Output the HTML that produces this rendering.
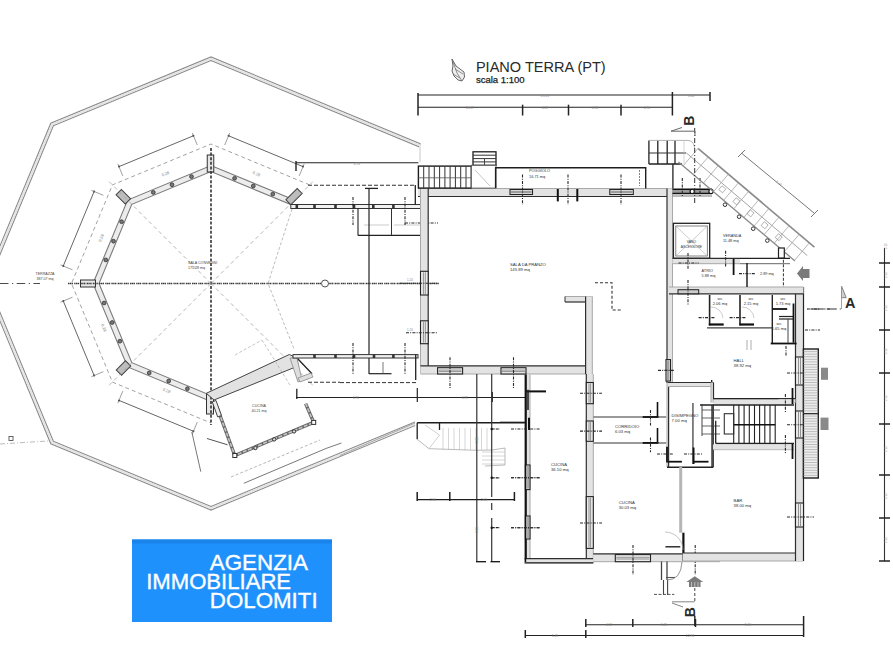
<!DOCTYPE html>
<html><head><meta charset="utf-8"><style>
html,body{margin:0;padding:0;background:#fff;width:893px;height:670px;overflow:hidden}
svg{position:absolute;left:0;top:0}
text{font-family:"Liberation Sans",sans-serif}
</style></head><body>
<svg width="893" height="670" viewBox="0 0 893 670">
<polyline points="420.0,162.0 420.0,143.6 211.0,57.0 50.8,123.3 -15.5,283.5 50.8,443.7 211.0,510.0 415.0,425.5" fill="none" stroke="#8c8c8c" stroke-width="1.2"/>
<polyline points="420.0,162.0 420.0,147.1 211.0,60.5 53.3,125.8 -12.0,283.5 53.3,441.2 211.0,506.5 415.0,422.0" fill="none" stroke="#8c8c8c" stroke-width="1.2"/>
<polyline points="420.0,162.0 420.0,145.3 211.0,58.8 52.1,124.6 -13.8,283.5 52.1,442.4 211.0,508.2 415.0,423.8" fill="none" stroke="#e4e4e4" stroke-width="2"/>
<line x1="0.0" y1="444.0" x2="48.0" y2="441.0" stroke="#aaa" stroke-width="0.8" stroke-dasharray="5 2 1 2"/>
<rect x="9" y="436.5" width="4" height="4" fill="#fff" stroke="#555" stroke-width="0.9"/>
<polygon points="294.4,200.1 211.0,165.5 127.6,200.1 93.0,283.5 127.6,366.9 211.0,401.5 211.0,395.5 131.8,362.7 99.0,283.5 131.8,204.3 211.0,171.5 290.2,204.3" fill="#ececec" stroke="#7a7a7a" stroke-width="1.1"/>
<circle cx="191.5" cy="176.6" r="1.9" fill="#777" stroke="#333" stroke-width="0.8"/>
<circle cx="172.0" cy="184.7" r="1.9" fill="#777" stroke="#333" stroke-width="0.8"/>
<circle cx="153.3" cy="192.4" r="1.9" fill="#777" stroke="#333" stroke-width="0.8"/>
<circle cx="121.6" cy="221.7" r="1.9" fill="#777" stroke="#333" stroke-width="0.8"/>
<circle cx="113.5" cy="241.2" r="1.9" fill="#777" stroke="#333" stroke-width="0.8"/>
<circle cx="105.8" cy="259.9" r="1.9" fill="#777" stroke="#333" stroke-width="0.8"/>
<circle cx="104.1" cy="303.0" r="1.9" fill="#777" stroke="#333" stroke-width="0.8"/>
<circle cx="112.2" cy="322.5" r="1.9" fill="#777" stroke="#333" stroke-width="0.8"/>
<circle cx="119.9" cy="341.2" r="1.9" fill="#777" stroke="#333" stroke-width="0.8"/>
<circle cx="149.2" cy="372.9" r="1.9" fill="#777" stroke="#333" stroke-width="0.8"/>
<circle cx="168.7" cy="381.0" r="1.9" fill="#777" stroke="#333" stroke-width="0.8"/>
<circle cx="187.4" cy="388.7" r="1.9" fill="#777" stroke="#333" stroke-width="0.8"/>
<circle cx="272.8" cy="194.1" r="1.9" fill="#777" stroke="#333" stroke-width="0.8"/>
<circle cx="253.3" cy="186.0" r="1.9" fill="#777" stroke="#333" stroke-width="0.8"/>
<circle cx="234.6" cy="178.3" r="1.9" fill="#777" stroke="#333" stroke-width="0.8"/>
<rect x="-6.5" y="-3.75" width="13" height="7.5" fill="#bdbdbd" stroke="#444" stroke-width="1" transform="translate(123.3,196.7) rotate(45)"/>
<rect x="-8.0" y="-3.5" width="16" height="7" fill="#bdbdbd" stroke="#444" stroke-width="1" transform="translate(294.0,196.6) rotate(-45)"/>
<rect x="-6.5" y="-3.75" width="13" height="7.5" fill="#bdbdbd" stroke="#444" stroke-width="1" transform="translate(123.5,368.0) rotate(-45)"/>
<rect x="-3.25" y="-8.5" width="6.5" height="17" fill="#e6e6e6" stroke="#333" stroke-width="1" transform="translate(210.5,163.5) rotate(0)"/>
<rect x="-7.5" y="-3.5" width="15" height="7" fill="#e6e6e6" stroke="#333" stroke-width="1" transform="translate(88.0,283.5) rotate(0)"/>
<rect x="-3.5" y="-10.0" width="7" height="20" fill="#e6e6e6" stroke="#333" stroke-width="1" transform="translate(210.0,404.0) rotate(0)"/>
<polyline points="309.6,184.9 211.0,144.0 112.4,184.9 71.5,283.5 112.4,382.1 211.0,423.0" fill="none" stroke="#8a8a8a" stroke-width="0.8" stroke-dasharray="4 3"/>
<line x1="303.0" y1="166.6" x2="228.6" y2="135.8" stroke="#555" stroke-width="0.9"/>
<circle cx="303.0" cy="166.6" r="1" fill="#333"/>
<circle cx="228.6" cy="135.8" r="1" fill="#333"/>
<line x1="299.2" y1="175.9" x2="304.2" y2="163.9" stroke="#777" stroke-width="0.7"/>
<line x1="224.7" y1="145.0" x2="229.7" y2="133.0" stroke="#777" stroke-width="0.7"/>
<line x1="193.4" y1="135.8" x2="119.0" y2="166.6" stroke="#555" stroke-width="0.9"/>
<circle cx="193.4" cy="135.8" r="1" fill="#333"/>
<circle cx="119.0" cy="166.6" r="1" fill="#333"/>
<line x1="197.3" y1="145.0" x2="192.3" y2="133.0" stroke="#777" stroke-width="0.7"/>
<line x1="122.8" y1="175.9" x2="117.8" y2="163.9" stroke="#777" stroke-width="0.7"/>
<line x1="94.1" y1="191.5" x2="63.3" y2="265.9" stroke="#555" stroke-width="0.9"/>
<circle cx="94.1" cy="191.5" r="1" fill="#333"/>
<circle cx="63.3" cy="265.9" r="1" fill="#333"/>
<line x1="103.4" y1="195.3" x2="91.4" y2="190.3" stroke="#777" stroke-width="0.7"/>
<line x1="72.5" y1="269.8" x2="60.5" y2="264.8" stroke="#777" stroke-width="0.7"/>
<line x1="63.3" y1="301.1" x2="94.1" y2="375.5" stroke="#555" stroke-width="0.9"/>
<circle cx="63.3" cy="301.1" r="1" fill="#333"/>
<circle cx="94.1" cy="375.5" r="1" fill="#333"/>
<line x1="72.5" y1="297.2" x2="60.5" y2="302.2" stroke="#777" stroke-width="0.7"/>
<line x1="103.4" y1="371.7" x2="91.4" y2="376.7" stroke="#777" stroke-width="0.7"/>
<line x1="119.0" y1="400.4" x2="193.4" y2="431.2" stroke="#555" stroke-width="0.9"/>
<circle cx="119.0" cy="400.4" r="1" fill="#333"/>
<circle cx="193.4" cy="431.2" r="1" fill="#333"/>
<line x1="122.8" y1="391.1" x2="117.8" y2="403.1" stroke="#777" stroke-width="0.7"/>
<line x1="197.3" y1="422.0" x2="192.3" y2="434.0" stroke="#777" stroke-width="0.7"/>
<line x1="211.0" y1="148.0" x2="211.0" y2="425.0" stroke="#333" stroke-width="1.6" stroke-dasharray="3 1.6"/>
<line x1="68.0" y1="283.5" x2="440.0" y2="283.5" stroke="#3a3a3a" stroke-width="1.5" stroke-dasharray="1.4 0.4 1.4 0.4 1.4 1.2"/>
<line x1="0.0" y1="283.5" x2="40.0" y2="283.5" stroke="#4a4a4a" stroke-width="1.1" stroke-dasharray="8.5 3.5 1.2 3.5"/>
<polyline points="292.0,209.0 268.0,283.5 294.5,350.0" fill="none" stroke="#aaa" stroke-width="0.8" stroke-dasharray="3 2"/>
<line x1="211.0" y1="283.5" x2="313.5" y2="181.0" stroke="#999" stroke-width="0.7" stroke-dasharray="4 3"/>
<line x1="211.0" y1="283.5" x2="108.5" y2="181.0" stroke="#999" stroke-width="0.7" stroke-dasharray="4 3"/>
<line x1="211.0" y1="283.5" x2="108.5" y2="386.0" stroke="#999" stroke-width="0.7" stroke-dasharray="4 3"/>
<line x1="211.0" y1="283.5" x2="313.5" y2="386.0" stroke="#999" stroke-width="0.7" stroke-dasharray="4 3"/>
<circle cx="325" cy="283.5" r="3.5" fill="#fff" stroke="#555" stroke-width="1"/>
<text x="188.0" y="264.0" font-size="3.6" fill="#444" text-anchor="start" >SALA CONVEGNI</text>
<text x="188.0" y="268.5" font-size="3.6" fill="#444" text-anchor="start" >175.28 mq</text>
<text x="45.0" y="275.0" font-size="3.6" fill="#444" text-anchor="middle" >TERRAZZA</text>
<text x="45.0" y="279.5" font-size="3.6" fill="#444" text-anchor="middle" >387.07 mq</text>
<text x="166.1" y="175.1" font-size="4" fill="#777" text-anchor="middle" transform="rotate(-22.5 166.1 175.1)">0.28</text>
<text x="102.6" y="238.6" font-size="4" fill="#777" text-anchor="middle" transform="rotate(-67.5 102.6 238.6)">0.28</text>
<text x="102.6" y="328.4" font-size="4" fill="#777" text-anchor="middle" transform="rotate(67.5 102.6 328.4)">0.28</text>
<text x="166.1" y="391.9" font-size="4" fill="#777" text-anchor="middle" transform="rotate(22.5 166.1 391.9)">0.28</text>
<text x="255.9" y="175.1" font-size="4" fill="#777" text-anchor="middle" transform="rotate(22.5 255.9 175.1)">0.28</text>
<polygon points="206.3,393.3 289.3,354.5 297.0,358.0 298.0,366.0 214.0,400.0" fill="#e2e2e2" stroke="#444" stroke-width="1"/>
<line x1="297.0" y1="358.0" x2="312.0" y2="373.7" stroke="#222" stroke-width="1.3"/>
<polygon points="290.0,358.0 297.0,358.0 302.0,380.0 298.0,382.0" fill="#dedede" stroke="#888" stroke-width="0.8"/>
<polygon points="298.0,378.0 311.0,373.0 313.0,377.0 300.0,382.0" fill="#dedede" stroke="#888" stroke-width="0.8"/>
<line x1="296.8" y1="388.8" x2="296.8" y2="399.0" stroke="#222" stroke-width="1.3"/>
<line x1="308.0" y1="382.3" x2="340.0" y2="382.3" stroke="#333" stroke-width="1.1" stroke-dasharray="4 2"/>
<polyline points="216.9,407.0 234.8,455.5 313.7,422.4 305.6,403.6" fill="none" stroke="#666" stroke-width="3.4"/>
<polyline points="216.9,407.0 234.8,455.5 313.7,422.4 305.6,403.6" fill="none" stroke="#c4c4c4" stroke-width="1.6" stroke-dasharray="4 1.5"/>
<circle cx="255.4" cy="448" r="1.7" fill="#ddd" stroke="#333" stroke-width="1"/>
<circle cx="274.2" cy="439.4" r="1.7" fill="#ddd" stroke="#333" stroke-width="1"/>
<circle cx="294" cy="431.4" r="1.7" fill="#ddd" stroke="#333" stroke-width="1"/>
<rect x="232.8" y="453.5" width="4" height="4" fill="#fff" stroke="#333" stroke-width="1"/>
<rect x="311.7" y="420.4" width="4" height="4" fill="#fff" stroke="#333" stroke-width="1"/>
<line x1="207.0" y1="438.5" x2="227.6" y2="444.8" stroke="#555" stroke-width="1"/>
<rect x="214.9" y="401" width="4" height="16" fill="#eee" stroke="#444" stroke-width="0.9" transform="rotate(-20 216 409)"/>
<text x="259.0" y="407.0" font-size="3.6" fill="#444" text-anchor="middle" >CUCINA</text>
<text x="259.0" y="411.5" font-size="3.6" fill="#444" text-anchor="middle" >40.21 mq</text>
<line x1="243.8" y1="483.3" x2="326.2" y2="448.4" stroke="#555" stroke-width="0.8"/>
<line x1="326.2" y1="448.4" x2="341.4" y2="443.0" stroke="#555" stroke-width="0.8"/>
<line x1="231.0" y1="477.0" x2="320.0" y2="440.0" stroke="#999" stroke-width="0.7" stroke-dasharray="3 2"/>
<line x1="191.8" y1="432.0" x2="200.8" y2="471.7" stroke="#555" stroke-width="0.8"/>
<line x1="235.0" y1="355.0" x2="262.0" y2="340.0" stroke="#aaa" stroke-width="0.7" stroke-dasharray="3 2"/>
<line x1="262.0" y1="340.0" x2="290.0" y2="385.0" stroke="#aaa" stroke-width="0.7" stroke-dasharray="3 2"/>
<rect x="290.8" y="204.5" width="130.2" height="4.0" fill="#f2f2f2" stroke="#333" stroke-width="1"/>
<rect x="295.5" y="204.5" width="2.6" height="4.0" fill="#333" stroke="none" stroke-width="0"/>
<rect x="313.2" y="204.5" width="2.6" height="4.0" fill="#333" stroke="none" stroke-width="0"/>
<rect x="334.2" y="204.5" width="2.6" height="4.0" fill="#333" stroke="none" stroke-width="0"/>
<rect x="352.7" y="204.5" width="2.6" height="4.0" fill="#333" stroke="none" stroke-width="0"/>
<rect x="372.0" y="204.5" width="2.6" height="4.0" fill="#333" stroke="none" stroke-width="0"/>
<rect x="392.1" y="204.5" width="2.6" height="4.0" fill="#333" stroke="none" stroke-width="0"/>
<line x1="358.0" y1="208.5" x2="358.0" y2="235.4" stroke="#222" stroke-width="1.1"/>
<line x1="358.0" y1="235.4" x2="427.3" y2="235.4" stroke="#222" stroke-width="1.1"/>
<line x1="391.5" y1="208.5" x2="391.5" y2="235.4" stroke="#333" stroke-width="1"/>
<line x1="364.0" y1="225.0" x2="389.0" y2="225.0" stroke="#aaa" stroke-width="0.6"/>
<line x1="394.0" y1="225.0" x2="420.0" y2="225.0" stroke="#aaa" stroke-width="0.6"/>
<line x1="353.0" y1="197.0" x2="353.0" y2="225.0" stroke="#2a2a2a" stroke-width="1.1" stroke-dasharray="3 1.2 1 1.2"/>
<line x1="405.0" y1="197.0" x2="405.0" y2="225.0" stroke="#2a2a2a" stroke-width="1.1" stroke-dasharray="3 1.2 1 1.2"/>
<line x1="405.0" y1="223.0" x2="438.0" y2="223.0" stroke="#2a2a2a" stroke-width="1.1" stroke-dasharray="3 1.2 1 1.2"/>
<line x1="369.0" y1="188.0" x2="369.0" y2="374.0" stroke="#222" stroke-width="1.2"/>
<line x1="365.0" y1="188.4" x2="378.0" y2="188.4" stroke="#222" stroke-width="1.3"/>
<line x1="296.0" y1="162.8" x2="418.4" y2="162.8" stroke="#222" stroke-width="1.1"/>
<line x1="296.0" y1="161.0" x2="296.0" y2="171.0" stroke="#222" stroke-width="1.4"/>
<text x="357" y="164.5" font-size="3.3" fill="#888" text-anchor="middle">4.78</text>
<line x1="308.0" y1="185.2" x2="414.0" y2="185.2" stroke="#333" stroke-width="1.1" stroke-dasharray="4 2"/>
<rect x="293.0" y="354.6" width="125.0" height="3.4" fill="#f2f2f2" stroke="#333" stroke-width="1"/>
<rect x="313.2" y="354.6" width="2.6" height="3.4" fill="#333" stroke="none" stroke-width="0"/>
<rect x="334.2" y="354.6" width="2.6" height="3.4" fill="#333" stroke="none" stroke-width="0"/>
<rect x="352.7" y="354.6" width="2.6" height="3.4" fill="#333" stroke="none" stroke-width="0"/>
<rect x="372.7" y="354.6" width="2.6" height="3.4" fill="#333" stroke="none" stroke-width="0"/>
<rect x="392.1" y="354.6" width="2.6" height="3.4" fill="#333" stroke="none" stroke-width="0"/>
<line x1="415.7" y1="354.6" x2="415.7" y2="380.0" stroke="#222" stroke-width="1.3"/>
<line x1="369.0" y1="373.7" x2="391.5" y2="373.7" stroke="#222" stroke-width="1.2"/>
<line x1="383.0" y1="362.0" x2="383.0" y2="373.7" stroke="#555" stroke-width="0.8"/>
<line x1="353.0" y1="343.0" x2="353.0" y2="375.0" stroke="#2a2a2a" stroke-width="1.1" stroke-dasharray="3 1.2 1 1.2"/>
<line x1="405.0" y1="343.0" x2="405.0" y2="375.0" stroke="#2a2a2a" stroke-width="1.1" stroke-dasharray="3 1.2 1 1.2"/>
<line x1="340.0" y1="382.6" x2="417.0" y2="382.6" stroke="#333" stroke-width="1" stroke-dasharray="4 2"/>
<line x1="296.0" y1="397.5" x2="526.3" y2="397.5" stroke="#222" stroke-width="1.1"/>
<line x1="417.3" y1="388.0" x2="417.3" y2="402.0" stroke="#222" stroke-width="1.2"/>
<line x1="492.3" y1="392.0" x2="492.3" y2="402.0" stroke="#222" stroke-width="1.2"/>
<text x="356" y="398.8" font-size="3.3" fill="#888" text-anchor="middle">6.90</text>
<text x="465" y="398.8" font-size="3.3" fill="#888" text-anchor="middle">6.95</text>
<rect x="418.0" y="188.5" width="254.5" height="8.0" fill="#e3e3e3"/>
<line x1="418.0" y1="188.5" x2="672.5" y2="188.5" stroke="#a8a8a8" stroke-width="1"/>
<line x1="418.0" y1="196.5" x2="672.5" y2="196.5" stroke="#2e2e2e" stroke-width="1.2"/>
<rect x="420.5" y="188.5" width="7.7" height="185.5" fill="#e3e3e3"/>
<line x1="420.5" y1="188.5" x2="420.5" y2="374.0" stroke="#a8a8a8" stroke-width="1"/>
<line x1="428.2" y1="188.5" x2="428.2" y2="374.0" stroke="#2e2e2e" stroke-width="1.2"/>
<rect x="420.5" y="365.8" width="171.8" height="8.2" fill="#e3e3e3"/>
<line x1="420.5" y1="374.0" x2="592.3" y2="374.0" stroke="#a8a8a8" stroke-width="1"/>
<line x1="420.5" y1="365.8" x2="592.3" y2="365.8" stroke="#2e2e2e" stroke-width="1.2"/>
<rect x="420.5" y="271.3" width="7.7" height="23.7" fill="#ececec" stroke="#222" stroke-width="1.1"/>
<line x1="423.4" y1="272.3" x2="423.4" y2="294.0" stroke="#555" stroke-width="0.6"/>
<line x1="425.3" y1="272.3" x2="425.3" y2="294.0" stroke="#555" stroke-width="0.6"/>
<rect x="420.5" y="320.8" width="7.7" height="22.9" fill="#ececec" stroke="#222" stroke-width="1.1"/>
<line x1="423.4" y1="321.8" x2="423.4" y2="342.7" stroke="#555" stroke-width="0.6"/>
<line x1="425.3" y1="321.8" x2="425.3" y2="342.7" stroke="#555" stroke-width="0.6"/>
<line x1="400.0" y1="283.2" x2="437.6" y2="283.2" stroke="#2a2a2a" stroke-width="1.1" stroke-dasharray="3 1.2 1 1.2"/>
<line x1="406.0" y1="332.7" x2="437.6" y2="332.7" stroke="#2a2a2a" stroke-width="1.1" stroke-dasharray="3 1.2 1 1.2"/>
<text x="410" y="281" font-size="3" fill="#888" text-anchor="middle">1.20</text>
<text x="410" y="330.5" font-size="3" fill="#888" text-anchor="middle">1.20</text>
<rect x="437.6" y="367.7" width="25.0" height="6.3" fill="#ececec" stroke="#222" stroke-width="1.1"/>
<line x1="438.6" y1="370.1" x2="461.6" y2="370.1" stroke="#555" stroke-width="0.6"/>
<line x1="438.6" y1="371.6" x2="461.6" y2="371.6" stroke="#555" stroke-width="0.6"/>
<rect x="501.0" y="367.7" width="25.0" height="6.3" fill="#ececec" stroke="#222" stroke-width="1.1"/>
<line x1="502.0" y1="370.1" x2="525.0" y2="370.1" stroke="#555" stroke-width="0.6"/>
<line x1="502.0" y1="371.6" x2="525.0" y2="371.6" stroke="#555" stroke-width="0.6"/>
<line x1="450.0" y1="357.3" x2="450.0" y2="388.6" stroke="#2a2a2a" stroke-width="1.1" stroke-dasharray="3 1.2 1 1.2"/>
<line x1="513.5" y1="357.3" x2="513.5" y2="388.6" stroke="#2a2a2a" stroke-width="1.1" stroke-dasharray="3 1.2 1 1.2"/>
<rect x="510.0" y="189.5" width="22.5" height="5.0" fill="#ececec" stroke="#222" stroke-width="1.1"/>
<line x1="511.0" y1="191.4" x2="531.5" y2="191.4" stroke="#555" stroke-width="0.6"/>
<line x1="511.0" y1="192.6" x2="531.5" y2="192.6" stroke="#555" stroke-width="0.6"/>
<rect x="609.8" y="189.5" width="23.5" height="5.0" fill="#ececec" stroke="#222" stroke-width="1.1"/>
<line x1="610.8" y1="191.4" x2="632.3" y2="191.4" stroke="#555" stroke-width="0.6"/>
<line x1="610.8" y1="192.6" x2="632.3" y2="192.6" stroke="#555" stroke-width="0.6"/>
<line x1="557.8" y1="189.0" x2="557.8" y2="201.4" stroke="#111" stroke-width="2"/>
<line x1="577.3" y1="189.0" x2="577.3" y2="201.4" stroke="#111" stroke-width="2"/>
<line x1="522.5" y1="174.6" x2="522.5" y2="204.8" stroke="#2a2a2a" stroke-width="1.1" stroke-dasharray="3 1.2 1 1.2"/>
<line x1="568.0" y1="174.6" x2="568.0" y2="204.8" stroke="#2a2a2a" stroke-width="1.1" stroke-dasharray="3 1.2 1 1.2"/>
<line x1="621.0" y1="174.6" x2="621.0" y2="204.8" stroke="#2a2a2a" stroke-width="1.1" stroke-dasharray="3 1.2 1 1.2"/>
<rect x="565.0" y="296.5" width="27.3" height="5.5" fill="#e3e3e3"/>
<line x1="565.0" y1="296.5" x2="592.3" y2="296.5" stroke="#a8a8a8" stroke-width="1"/>
<line x1="565.0" y1="302.0" x2="592.3" y2="302.0" stroke="#2e2e2e" stroke-width="1.2"/>
<rect x="585.6" y="296.5" width="6.7" height="77.5" fill="#e3e3e3"/>
<line x1="592.3" y1="296.5" x2="592.3" y2="374.0" stroke="#a8a8a8" stroke-width="1"/>
<line x1="585.6" y1="296.5" x2="585.6" y2="374.0" stroke="#2e2e2e" stroke-width="1.2"/>
<line x1="565.0" y1="296.5" x2="565.0" y2="302.0" stroke="#333" stroke-width="1"/>
<polyline points="595.0,282.7 612.0,282.7 612.0,310.0 622.0,310.0" fill="none" stroke="#333" stroke-width="1.1" stroke-dasharray="3 2"/>
<text x="510" y="266" font-size="4.2" fill="#333">SALA DA PRANZO</text>
<text x="510" y="271.3" font-size="4.2" fill="#333">145.89 mq</text>
<rect x="667.0" y="188.5" width="5.5" height="194.5" fill="#e3e3e3"/>
<line x1="672.5" y1="188.5" x2="672.5" y2="383.0" stroke="#a8a8a8" stroke-width="1"/>
<line x1="667.0" y1="188.5" x2="667.0" y2="383.0" stroke="#2e2e2e" stroke-width="1.2"/>
<rect x="666.0" y="359.6" width="4.5" height="21.4" fill="#ececec" stroke="#222" stroke-width="1.1"/>
<line x1="667.7" y1="360.6" x2="667.7" y2="380.0" stroke="#555" stroke-width="0.6"/>
<line x1="668.8" y1="360.6" x2="668.8" y2="380.0" stroke="#555" stroke-width="0.6"/>
<line x1="658.0" y1="370.4" x2="674.5" y2="370.4" stroke="#2a2a2a" stroke-width="1.1" stroke-dasharray="3 1.2 1 1.2"/>
<rect x="667.0" y="383.0" width="1.6" height="84.0" fill="#e3e3e3"/>
<line x1="667.0" y1="383.0" x2="667.0" y2="467.0" stroke="#a8a8a8" stroke-width="1"/>
<line x1="668.6" y1="383.0" x2="668.6" y2="467.0" stroke="#2e2e2e" stroke-width="1.2"/>
<rect x="526.3" y="374.6" width="3.7" height="188.2" fill="#e3e3e3"/>
<line x1="530.0" y1="374.6" x2="530.0" y2="562.8" stroke="#a8a8a8" stroke-width="1"/>
<line x1="526.3" y1="374.6" x2="526.3" y2="562.8" stroke="#2e2e2e" stroke-width="1.2"/>
<line x1="526.3" y1="391.4" x2="546.0" y2="391.4" stroke="#111" stroke-width="2"/>
<line x1="528.0" y1="389.7" x2="528.0" y2="409.9" stroke="#222" stroke-width="1.6"/>
<line x1="529.0" y1="417.7" x2="529.0" y2="430.0" stroke="#111" stroke-width="2"/>
<line x1="500.0" y1="422.2" x2="526.0" y2="422.2" stroke="#333" stroke-width="1.1"/>
<rect x="586.3" y="374.0" width="7.0" height="188.8" fill="#e3e3e3"/>
<line x1="593.3" y1="374.0" x2="593.3" y2="562.8" stroke="#a8a8a8" stroke-width="1"/>
<line x1="586.3" y1="374.0" x2="586.3" y2="562.8" stroke="#2e2e2e" stroke-width="1.2"/>
<rect x="524.6" y="558.7" width="68.7" height="4.1" fill="#e3e3e3"/>
<line x1="524.6" y1="562.8" x2="593.3" y2="562.8" stroke="#a8a8a8" stroke-width="1"/>
<line x1="524.6" y1="558.7" x2="593.3" y2="558.7" stroke="#2e2e2e" stroke-width="1.2"/>
<line x1="524.6" y1="562.8" x2="593.3" y2="562.8" stroke="#222" stroke-width="1.3"/>
<rect x="586.3" y="382.5" width="7.0" height="21.2" fill="#ececec" stroke="#222" stroke-width="1.1"/>
<line x1="589.0" y1="383.5" x2="589.0" y2="402.7" stroke="#555" stroke-width="0.6"/>
<line x1="590.6" y1="383.5" x2="590.6" y2="402.7" stroke="#555" stroke-width="0.6"/>
<rect x="586.3" y="421.0" width="7.0" height="20.3" fill="#ececec" stroke="#222" stroke-width="1.1"/>
<line x1="589.0" y1="422.0" x2="589.0" y2="440.3" stroke="#555" stroke-width="0.6"/>
<line x1="590.6" y1="422.0" x2="590.6" y2="440.3" stroke="#555" stroke-width="0.6"/>
<rect x="586.3" y="496.6" width="7.0" height="51.8" fill="#ececec" stroke="#222" stroke-width="1.1"/>
<line x1="589.0" y1="497.6" x2="589.0" y2="547.4" stroke="#555" stroke-width="0.6"/>
<line x1="590.6" y1="497.6" x2="590.6" y2="547.4" stroke="#555" stroke-width="0.6"/>
<line x1="580.0" y1="393.2" x2="602.0" y2="393.2" stroke="#2a2a2a" stroke-width="1.1" stroke-dasharray="3 1.2 1 1.2"/>
<line x1="580.0" y1="431.1" x2="602.0" y2="431.1" stroke="#2a2a2a" stroke-width="1.1" stroke-dasharray="3 1.2 1 1.2"/>
<line x1="580.0" y1="523.0" x2="602.0" y2="523.0" stroke="#2a2a2a" stroke-width="1.1" stroke-dasharray="3 1.2 1 1.2"/>
<rect x="525.4" y="465.0" width="4.6" height="24.6" fill="#ececec" stroke="#222" stroke-width="1.1"/>
<line x1="527.1" y1="466.0" x2="527.1" y2="488.6" stroke="#555" stroke-width="0.6"/>
<line x1="528.3" y1="466.0" x2="528.3" y2="488.6" stroke="#555" stroke-width="0.6"/>
<rect x="525.4" y="516.0" width="4.6" height="23.0" fill="#ececec" stroke="#222" stroke-width="1.1"/>
<line x1="527.1" y1="517.0" x2="527.1" y2="538.0" stroke="#555" stroke-width="0.6"/>
<line x1="528.3" y1="517.0" x2="528.3" y2="538.0" stroke="#555" stroke-width="0.6"/>
<line x1="511.0" y1="477.8" x2="540.0" y2="477.8" stroke="#2a2a2a" stroke-width="1.1" stroke-dasharray="3 1.2 1 1.2"/>
<line x1="511.0" y1="527.7" x2="540.0" y2="527.7" stroke="#2a2a2a" stroke-width="1.1" stroke-dasharray="3 1.2 1 1.2"/>
<line x1="525.4" y1="374.6" x2="525.4" y2="562.0" stroke="#111" stroke-width="1.6"/>
<text x="551" y="466" font-size="4.2" fill="#333">CUCINA</text>
<text x="551" y="471.3" font-size="4.2" fill="#333">36.10 mq</text>
<line x1="593.3" y1="417.0" x2="666.2" y2="417.0" stroke="#777" stroke-width="1.5"/>
<line x1="593.3" y1="442.9" x2="666.2" y2="442.9" stroke="#777" stroke-width="1.5"/>
<line x1="657.5" y1="402.0" x2="657.5" y2="417.0" stroke="#111" stroke-width="1.6"/>
<line x1="657.5" y1="428.0" x2="657.5" y2="443.0" stroke="#111" stroke-width="1.6"/>
<line x1="642.7" y1="417.0" x2="658.4" y2="417.0" stroke="#111" stroke-width="1.8"/>
<line x1="642.7" y1="442.9" x2="658.4" y2="442.9" stroke="#111" stroke-width="1.8"/>
<line x1="650.5" y1="410.0" x2="650.5" y2="425.6" stroke="#2a2a2a" stroke-width="1.1" stroke-dasharray="3 1.2 1 1.2"/>
<line x1="650.5" y1="437.4" x2="650.5" y2="452.3" stroke="#2a2a2a" stroke-width="1.1" stroke-dasharray="3 1.2 1 1.2"/>
<text x="615" y="428" font-size="4.2" fill="#333">CORRIDOIO</text>
<text x="615" y="433.3" font-size="4.2" fill="#333">6.03 mq</text>
<line x1="668.6" y1="384.9" x2="710.0" y2="384.9" stroke="#777" stroke-width="1.6"/>
<line x1="711.7" y1="380.0" x2="711.7" y2="399.0" stroke="#222" stroke-width="1.4"/>
<line x1="711.7" y1="399.0" x2="800.0" y2="399.0" stroke="#222" stroke-width="1.2"/>
<line x1="692.9" y1="403.0" x2="692.9" y2="464.0" stroke="#777" stroke-width="1.8"/>
<line x1="667.0" y1="467.2" x2="713.2" y2="467.2" stroke="#222" stroke-width="1.4"/>
<line x1="713.2" y1="404.5" x2="713.2" y2="467.2" stroke="#222" stroke-width="1.3"/>
<line x1="667.8" y1="461.7" x2="681.9" y2="461.7" stroke="#111" stroke-width="1.8"/>
<line x1="693.6" y1="461.7" x2="708.5" y2="461.7" stroke="#111" stroke-width="1.8"/>
<line x1="667.0" y1="446.8" x2="667.0" y2="462.5" stroke="#111" stroke-width="1.8"/>
<line x1="693.6" y1="447.5" x2="693.6" y2="464.0" stroke="#111" stroke-width="1.8"/>
<line x1="657.0" y1="454.0" x2="674.0" y2="454.0" stroke="#2a2a2a" stroke-width="1.1" stroke-dasharray="3 1.2 1 1.2"/>
<line x1="684.0" y1="454.0" x2="702.0" y2="454.0" stroke="#2a2a2a" stroke-width="1.1" stroke-dasharray="3 1.2 1 1.2"/>
<line x1="702.0" y1="410.0" x2="720.0" y2="410.0" stroke="#555" stroke-width="0.9"/>
<line x1="702.0" y1="418.0" x2="720.0" y2="418.0" stroke="#555" stroke-width="0.9"/>
<line x1="702.0" y1="426.0" x2="720.0" y2="426.0" stroke="#555" stroke-width="0.9"/>
<line x1="702.0" y1="434.0" x2="720.0" y2="434.0" stroke="#555" stroke-width="0.9"/>
<line x1="702.0" y1="404.5" x2="702.0" y2="436.0" stroke="#444" stroke-width="1"/>
<text x="671.6" y="417" font-size="4.2" fill="#333">DISIMPEGNO</text>
<text x="671.6" y="422.3" font-size="4.2" fill="#333">7.00 mq</text>
<rect x="593.3" y="553.9" width="126.7" height="7.8" fill="#e3e3e3"/>
<line x1="593.3" y1="561.7" x2="720.0" y2="561.7" stroke="#a8a8a8" stroke-width="1"/>
<line x1="593.3" y1="553.9" x2="720.0" y2="553.9" stroke="#2e2e2e" stroke-width="1.2"/>
<rect x="615.3" y="554.6" width="35.2" height="7.1" fill="#ececec" stroke="#222" stroke-width="1.1"/>
<line x1="616.3" y1="557.3" x2="649.5" y2="557.3" stroke="#555" stroke-width="0.6"/>
<line x1="616.3" y1="559.0" x2="649.5" y2="559.0" stroke="#555" stroke-width="0.6"/>
<line x1="633.0" y1="545.0" x2="633.0" y2="575.0" stroke="#2a2a2a" stroke-width="1.1" stroke-dasharray="3 1.2 1 1.2"/>
<line x1="680.7" y1="467.0" x2="680.7" y2="532.7" stroke="#b5b5b5" stroke-width="3"/>
<line x1="683.4" y1="532.7" x2="683.4" y2="561.0" stroke="#111" stroke-width="2.2"/>
<line x1="665.4" y1="546.8" x2="680.3" y2="546.8" stroke="#222" stroke-width="1.4"/>
<path d="M665,532 A18,18 0 0 1 683,550" fill="none" stroke="#aaa" stroke-width="0.7"/>
<line x1="695.2" y1="545.0" x2="695.2" y2="575.0" stroke="#2a2a2a" stroke-width="1.1" stroke-dasharray="3 1.2 1 1.2"/>
<text x="618.7" y="503.5" font-size="4.2" fill="#333">CUCINA</text>
<text x="618.7" y="508.8" font-size="4.2" fill="#333">30.03 mq</text>
<line x1="661.5" y1="561.5" x2="661.5" y2="580.0" stroke="#444" stroke-width="1.3"/>
<line x1="667.0" y1="561.5" x2="667.0" y2="580.0" stroke="#444" stroke-width="1.3"/>
<line x1="663.5" y1="580.0" x2="663.5" y2="595.0" stroke="#444" stroke-width="1.1"/>
<line x1="667.6" y1="580.0" x2="667.6" y2="595.0" stroke="#444" stroke-width="1.1"/>
<line x1="654.0" y1="594.4" x2="674.3" y2="594.4" stroke="#555" stroke-width="1" stroke-dasharray="3 1.5"/>
<line x1="666.0" y1="577.5" x2="675.0" y2="577.5" stroke="#555" stroke-width="1.1"/>
<path d="M667,580 Q681,580 682,562" fill="none" stroke="#777" stroke-width="0.8"/>
<rect x="682.6" y="553.0" width="120.9" height="8.0" fill="#e3e3e3"/>
<line x1="682.6" y1="561.0" x2="803.5" y2="561.0" stroke="#a8a8a8" stroke-width="1"/>
<line x1="682.6" y1="553.0" x2="803.5" y2="553.0" stroke="#2e2e2e" stroke-width="1.2"/>
<rect x="795.5" y="287.0" width="8.0" height="274.0" fill="#e3e3e3"/>
<line x1="803.5" y1="287.0" x2="803.5" y2="561.0" stroke="#a8a8a8" stroke-width="1"/>
<line x1="795.5" y1="287.0" x2="795.5" y2="561.0" stroke="#2e2e2e" stroke-width="1.2"/>
<line x1="803.5" y1="287.0" x2="803.5" y2="561.0" stroke="#222" stroke-width="1.2"/>
<rect x="795.5" y="357.0" width="8.0" height="28.0" fill="#ececec" stroke="#222" stroke-width="1.1"/>
<line x1="798.5" y1="358.0" x2="798.5" y2="384.0" stroke="#555" stroke-width="0.6"/>
<line x1="800.5" y1="358.0" x2="800.5" y2="384.0" stroke="#555" stroke-width="0.6"/>
<rect x="795.5" y="411.0" width="8.0" height="27.0" fill="#ececec" stroke="#222" stroke-width="1.1"/>
<line x1="798.5" y1="412.0" x2="798.5" y2="437.0" stroke="#555" stroke-width="0.6"/>
<line x1="800.5" y1="412.0" x2="800.5" y2="437.0" stroke="#555" stroke-width="0.6"/>
<rect x="795.5" y="503.0" width="8.0" height="24.0" fill="#ececec" stroke="#222" stroke-width="1.1"/>
<line x1="798.5" y1="504.0" x2="798.5" y2="526.0" stroke="#555" stroke-width="0.6"/>
<line x1="800.5" y1="504.0" x2="800.5" y2="526.0" stroke="#555" stroke-width="0.6"/>
<line x1="787.0" y1="373.0" x2="814.0" y2="373.0" stroke="#2a2a2a" stroke-width="1.1" stroke-dasharray="3 1.2 1 1.2"/>
<line x1="787.0" y1="424.7" x2="814.0" y2="424.7" stroke="#2a2a2a" stroke-width="1.1" stroke-dasharray="3 1.2 1 1.2"/>
<line x1="787.0" y1="517.0" x2="814.0" y2="517.0" stroke="#2a2a2a" stroke-width="1.1" stroke-dasharray="3 1.2 1 1.2"/>
<text x="733.6" y="502" font-size="4.2" fill="#333">BAR</text>
<text x="733.6" y="507.3" font-size="4.2" fill="#333">38.00 mq</text>
<rect x="669.0" y="287.0" width="134.5" height="6.8" fill="#e3e3e3"/>
<line x1="669.0" y1="287.0" x2="803.5" y2="287.0" stroke="#a8a8a8" stroke-width="1"/>
<line x1="669.0" y1="293.8" x2="803.5" y2="293.8" stroke="#2e2e2e" stroke-width="1.2"/>
<rect x="668.0" y="382.5" width="45.5" height="4.0" fill="#e3e3e3"/>
<line x1="668.0" y1="386.5" x2="713.5" y2="386.5" stroke="#a8a8a8" stroke-width="1"/>
<line x1="668.0" y1="382.5" x2="713.5" y2="382.5" stroke="#2e2e2e" stroke-width="1.2"/>
<rect x="711.0" y="382.5" width="2.5" height="20.1" fill="#e3e3e3"/>
<line x1="711.0" y1="382.5" x2="711.0" y2="402.6" stroke="#a8a8a8" stroke-width="1"/>
<line x1="713.5" y1="382.5" x2="713.5" y2="402.6" stroke="#2e2e2e" stroke-width="1.2"/>
<rect x="713.5" y="398.6" width="82.0" height="4.0" fill="#e3e3e3"/>
<line x1="713.5" y1="402.6" x2="795.5" y2="402.6" stroke="#a8a8a8" stroke-width="1"/>
<line x1="713.5" y1="398.6" x2="795.5" y2="398.6" stroke="#2e2e2e" stroke-width="1.2"/>
<text x="733.6" y="362" font-size="4.2" fill="#333">HALL</text>
<text x="733.6" y="367.3" font-size="4.2" fill="#333">38.92 mq</text>
<line x1="747.0" y1="340.0" x2="747.0" y2="350.0" stroke="#777" stroke-width="0.6"/>
<line x1="751.0" y1="340.0" x2="751.0" y2="350.0" stroke="#777" stroke-width="0.6"/>
<line x1="713.3" y1="398.8" x2="778.4" y2="398.8" stroke="#222" stroke-width="1.3"/>
<rect x="713.3" y="399.5" width="81" height="5" fill="#e3e3e3"/>
<line x1="700.0" y1="405.0" x2="794.0" y2="405.0" stroke="#222" stroke-width="1.3"/>
<line x1="715.7" y1="443.5" x2="794.0" y2="443.5" stroke="#222" stroke-width="1.4"/>
<rect x="713" y="444.5" width="81" height="5" fill="#e3e3e3"/>
<line x1="713.0" y1="449.7" x2="794.0" y2="449.7" stroke="#aaa" stroke-width="0.8"/>
<line x1="715.7" y1="420.7" x2="715.7" y2="443.5" stroke="#222" stroke-width="1.3"/>
<line x1="712.0" y1="405.0" x2="712.0" y2="467.8" stroke="#222" stroke-width="1.3"/>
<line x1="733.7" y1="405.0" x2="733.7" y2="443.5" stroke="#222" stroke-width="1.1"/>
<line x1="738.9" y1="405.0" x2="738.9" y2="443.5" stroke="#222" stroke-width="1.1"/>
<line x1="744.1" y1="405.0" x2="744.1" y2="443.5" stroke="#222" stroke-width="1.1"/>
<line x1="749.3" y1="405.0" x2="749.3" y2="443.5" stroke="#222" stroke-width="1.1"/>
<line x1="754.5" y1="405.0" x2="754.5" y2="443.5" stroke="#222" stroke-width="1.1"/>
<line x1="759.6" y1="405.0" x2="759.6" y2="443.5" stroke="#222" stroke-width="1.1"/>
<line x1="764.8" y1="405.0" x2="764.8" y2="443.5" stroke="#222" stroke-width="1.1"/>
<line x1="770.0" y1="405.0" x2="770.0" y2="443.5" stroke="#222" stroke-width="1.1"/>
<line x1="775.2" y1="405.0" x2="775.2" y2="443.5" stroke="#222" stroke-width="1.1"/>
<line x1="733.7" y1="424.7" x2="775.2" y2="424.7" stroke="#111" stroke-width="1.4"/>
<rect x="724.3" y="413.7" width="9.4" height="20.3" fill="none" stroke="#333" stroke-width="1.1"/>
<line x1="785.4" y1="394.0" x2="785.4" y2="413.0" stroke="#2a2a2a" stroke-width="1.1" stroke-dasharray="3 1.2 1 1.2"/>
<line x1="785.4" y1="435.0" x2="785.4" y2="453.7" stroke="#2a2a2a" stroke-width="1.1" stroke-dasharray="3 1.2 1 1.2"/>
<line x1="792.5" y1="388.0" x2="792.5" y2="404.0" stroke="#111" stroke-width="1.8"/>
<line x1="792.5" y1="444.0" x2="792.5" y2="459.0" stroke="#111" stroke-width="1.8"/>
<rect x="803.4" y="349.0" width="14.9" height="129.0" fill="#eeeeee" stroke="#1e1e1e" stroke-width="1.4"/>
<line x1="803.4" y1="351.6" x2="818.3" y2="351.6" stroke="#9a9a9a" stroke-width="0.6"/>
<line x1="803.4" y1="354.2" x2="818.3" y2="354.2" stroke="#9a9a9a" stroke-width="0.6"/>
<line x1="803.4" y1="356.7" x2="818.3" y2="356.7" stroke="#9a9a9a" stroke-width="0.6"/>
<line x1="803.4" y1="359.3" x2="818.3" y2="359.3" stroke="#9a9a9a" stroke-width="0.6"/>
<line x1="803.4" y1="361.9" x2="818.3" y2="361.9" stroke="#9a9a9a" stroke-width="0.6"/>
<line x1="803.4" y1="364.5" x2="818.3" y2="364.5" stroke="#9a9a9a" stroke-width="0.6"/>
<line x1="803.4" y1="367.1" x2="818.3" y2="367.1" stroke="#9a9a9a" stroke-width="0.6"/>
<line x1="803.4" y1="369.6" x2="818.3" y2="369.6" stroke="#9a9a9a" stroke-width="0.6"/>
<line x1="803.4" y1="372.2" x2="818.3" y2="372.2" stroke="#9a9a9a" stroke-width="0.6"/>
<line x1="803.4" y1="374.8" x2="818.3" y2="374.8" stroke="#9a9a9a" stroke-width="0.6"/>
<line x1="803.4" y1="377.4" x2="818.3" y2="377.4" stroke="#9a9a9a" stroke-width="0.6"/>
<line x1="803.4" y1="380.0" x2="818.3" y2="380.0" stroke="#9a9a9a" stroke-width="0.6"/>
<line x1="803.4" y1="382.5" x2="818.3" y2="382.5" stroke="#9a9a9a" stroke-width="0.6"/>
<line x1="803.4" y1="385.1" x2="818.3" y2="385.1" stroke="#9a9a9a" stroke-width="0.6"/>
<line x1="803.4" y1="387.7" x2="818.3" y2="387.7" stroke="#9a9a9a" stroke-width="0.6"/>
<line x1="803.4" y1="390.3" x2="818.3" y2="390.3" stroke="#9a9a9a" stroke-width="0.6"/>
<line x1="803.4" y1="392.9" x2="818.3" y2="392.9" stroke="#9a9a9a" stroke-width="0.6"/>
<line x1="803.4" y1="395.4" x2="818.3" y2="395.4" stroke="#9a9a9a" stroke-width="0.6"/>
<line x1="803.4" y1="398.0" x2="818.3" y2="398.0" stroke="#9a9a9a" stroke-width="0.6"/>
<line x1="803.4" y1="400.6" x2="818.3" y2="400.6" stroke="#9a9a9a" stroke-width="0.6"/>
<line x1="803.4" y1="403.2" x2="818.3" y2="403.2" stroke="#9a9a9a" stroke-width="0.6"/>
<line x1="803.4" y1="405.8" x2="818.3" y2="405.8" stroke="#9a9a9a" stroke-width="0.6"/>
<line x1="803.4" y1="408.3" x2="818.3" y2="408.3" stroke="#9a9a9a" stroke-width="0.6"/>
<line x1="803.4" y1="410.9" x2="818.3" y2="410.9" stroke="#9a9a9a" stroke-width="0.6"/>
<line x1="803.4" y1="413.5" x2="818.3" y2="413.5" stroke="#9a9a9a" stroke-width="0.6"/>
<line x1="803.4" y1="416.1" x2="818.3" y2="416.1" stroke="#9a9a9a" stroke-width="0.6"/>
<line x1="803.4" y1="418.7" x2="818.3" y2="418.7" stroke="#9a9a9a" stroke-width="0.6"/>
<line x1="803.4" y1="421.2" x2="818.3" y2="421.2" stroke="#9a9a9a" stroke-width="0.6"/>
<line x1="803.4" y1="423.8" x2="818.3" y2="423.8" stroke="#9a9a9a" stroke-width="0.6"/>
<line x1="803.4" y1="426.4" x2="818.3" y2="426.4" stroke="#9a9a9a" stroke-width="0.6"/>
<line x1="803.4" y1="429.0" x2="818.3" y2="429.0" stroke="#9a9a9a" stroke-width="0.6"/>
<line x1="803.4" y1="431.6" x2="818.3" y2="431.6" stroke="#9a9a9a" stroke-width="0.6"/>
<line x1="803.4" y1="434.1" x2="818.3" y2="434.1" stroke="#9a9a9a" stroke-width="0.6"/>
<line x1="803.4" y1="436.7" x2="818.3" y2="436.7" stroke="#9a9a9a" stroke-width="0.6"/>
<line x1="803.4" y1="439.3" x2="818.3" y2="439.3" stroke="#9a9a9a" stroke-width="0.6"/>
<line x1="803.4" y1="441.9" x2="818.3" y2="441.9" stroke="#9a9a9a" stroke-width="0.6"/>
<line x1="803.4" y1="444.5" x2="818.3" y2="444.5" stroke="#9a9a9a" stroke-width="0.6"/>
<line x1="803.4" y1="447.0" x2="818.3" y2="447.0" stroke="#9a9a9a" stroke-width="0.6"/>
<line x1="803.4" y1="449.6" x2="818.3" y2="449.6" stroke="#9a9a9a" stroke-width="0.6"/>
<line x1="803.4" y1="452.2" x2="818.3" y2="452.2" stroke="#9a9a9a" stroke-width="0.6"/>
<line x1="803.4" y1="454.8" x2="818.3" y2="454.8" stroke="#9a9a9a" stroke-width="0.6"/>
<line x1="803.4" y1="457.4" x2="818.3" y2="457.4" stroke="#9a9a9a" stroke-width="0.6"/>
<line x1="803.4" y1="459.9" x2="818.3" y2="459.9" stroke="#9a9a9a" stroke-width="0.6"/>
<line x1="803.4" y1="462.5" x2="818.3" y2="462.5" stroke="#9a9a9a" stroke-width="0.6"/>
<line x1="803.4" y1="465.1" x2="818.3" y2="465.1" stroke="#9a9a9a" stroke-width="0.6"/>
<line x1="803.4" y1="467.7" x2="818.3" y2="467.7" stroke="#9a9a9a" stroke-width="0.6"/>
<line x1="803.4" y1="470.3" x2="818.3" y2="470.3" stroke="#9a9a9a" stroke-width="0.6"/>
<line x1="803.4" y1="472.8" x2="818.3" y2="472.8" stroke="#9a9a9a" stroke-width="0.6"/>
<line x1="803.4" y1="475.4" x2="818.3" y2="475.4" stroke="#9a9a9a" stroke-width="0.6"/>
<line x1="803.4" y1="413.7" x2="818.3" y2="413.7" stroke="#222" stroke-width="1.2"/>
<polygon points="821,367.7 828,367.7 828,379.8 821,379.8" fill="#8a8a8a"/>
<polygon points="820.5,417.6 828.5,417.6 828.5,430 820.5,430" fill="#8a8a8a"/>
<rect x="673.4" y="223.3" width="36.3" height="35.0" fill="#fff" stroke="#222" stroke-width="1.3"/>
<rect x="675.8" y="226.0" width="31.5" height="30.0" fill="#fff" stroke="#666" stroke-width="0.8"/>
<line x1="675.8" y1="226.0" x2="707.3" y2="256.0" stroke="#aaa" stroke-width="0.6"/>
<line x1="707.3" y1="226.0" x2="675.8" y2="256.0" stroke="#aaa" stroke-width="0.6"/>
<text x="691.5" y="243" font-size="3.4" fill="#333" text-anchor="middle">VANO</text>
<text x="691.5" y="247.5" font-size="3.4" fill="#333" text-anchor="middle">ASCENSORE</text>
<rect x="672.5" y="258.3" width="67.5" height="5.4" fill="#e3e3e3"/>
<line x1="672.5" y1="263.7" x2="740.0" y2="263.7" stroke="#a8a8a8" stroke-width="1"/>
<line x1="672.5" y1="258.3" x2="740.0" y2="258.3" stroke="#2e2e2e" stroke-width="1.2"/>
<line x1="740.0" y1="258.3" x2="790.0" y2="258.3" stroke="#222" stroke-width="1.3"/>
<line x1="740.0" y1="263.7" x2="790.0" y2="263.7" stroke="#555" stroke-width="0.9"/>
<line x1="688.0" y1="253.0" x2="688.0" y2="270.0" stroke="#2a2a2a" stroke-width="1.1" stroke-dasharray="3 1.2 1 1.2"/>
<line x1="678.5" y1="263.0" x2="698.7" y2="263.0" stroke="#2a2a2a" stroke-width="1.1" stroke-dasharray="3 1.2 1 1.2"/>
<line x1="725.6" y1="250.8" x2="725.6" y2="267.0" stroke="#2a2a2a" stroke-width="1.1" stroke-dasharray="3 1.2 1 1.2"/>
<line x1="733.6" y1="258.8" x2="733.6" y2="275.0" stroke="#111" stroke-width="1.8"/>
<line x1="747.0" y1="263.0" x2="747.0" y2="287.0" stroke="#222" stroke-width="1.5"/>
<line x1="739.0" y1="273.6" x2="755.0" y2="273.6" stroke="#2a2a2a" stroke-width="1.1" stroke-dasharray="3 1.2 1 1.2"/>
<line x1="783.4" y1="250.8" x2="783.4" y2="287.0" stroke="#333" stroke-width="1" stroke-dasharray="3 1.5"/>
<rect x="678.0" y="289.7" width="20.7" height="4.1" fill="#ccc" stroke="#222" stroke-width="1"/>
<line x1="688.0" y1="280.0" x2="688.0" y2="304.5" stroke="#2a2a2a" stroke-width="1.1" stroke-dasharray="3 1.2 1 1.2"/>
<text x="701.6" y="272" font-size="3.8" fill="#333">ATRIO</text>
<text x="701.6" y="277.3" font-size="3.8" fill="#333">5.88 mq</text>
<text x="760" y="275" font-size="3.8" fill="#333">2.89 mq</text>
<rect x="672.5" y="189.5" width="39.5" height="4.0" fill="#9a9a9a" stroke="none" stroke-width="0"/>
<line x1="672.5" y1="189.3" x2="712.0" y2="189.3" stroke="#111" stroke-width="1.5"/>
<line x1="672.5" y1="193.5" x2="712.0" y2="193.5" stroke="#111" stroke-width="1.5"/>
<line x1="672.5" y1="196.0" x2="712.0" y2="196.0" stroke="#777" stroke-width="1"/>
<circle cx="692.2" cy="191.4" r="2.1" fill="#fff" stroke="#111" stroke-width="1.1"/>
<circle cx="711" cy="191.4" r="2.1" fill="#fff" stroke="#111" stroke-width="1.1"/>
<line x1="682.3" y1="178.0" x2="682.3" y2="197.0" stroke="#2a2a2a" stroke-width="1.1" stroke-dasharray="3 1.2 1 1.2"/>
<line x1="700.0" y1="178.0" x2="700.0" y2="197.0" stroke="#2a2a2a" stroke-width="1.1" stroke-dasharray="3 1.2 1 1.2"/>
<line x1="709.6" y1="295.0" x2="709.6" y2="325.5" stroke="#222" stroke-width="1.6"/>
<line x1="740.0" y1="295.0" x2="740.0" y2="325.5" stroke="#222" stroke-width="1.6"/>
<line x1="707.0" y1="327.8" x2="772.3" y2="327.8" stroke="#444" stroke-width="1.2"/>
<line x1="708.8" y1="324.5" x2="723.7" y2="324.5" stroke="#111" stroke-width="2.2"/>
<line x1="739.5" y1="324.5" x2="754.0" y2="324.5" stroke="#111" stroke-width="2.2"/>
<line x1="772.3" y1="295.0" x2="772.3" y2="344.0" stroke="#222" stroke-width="1.4"/>
<line x1="772.3" y1="309.0" x2="787.2" y2="309.0" stroke="#111" stroke-width="1.8"/>
<line x1="779.0" y1="316.5" x2="793.5" y2="316.5" stroke="#222" stroke-width="1.2"/>
<line x1="779.0" y1="319.0" x2="793.5" y2="319.0" stroke="#222" stroke-width="1.2"/>
<line x1="793.5" y1="303.5" x2="793.5" y2="342.7" stroke="#111" stroke-width="1.8"/>
<line x1="770.7" y1="343.5" x2="796.6" y2="343.5" stroke="#111" stroke-width="1.8"/>
<line x1="788.0" y1="319.0" x2="788.0" y2="343.0" stroke="#444" stroke-width="1"/>
<line x1="698.6" y1="317.6" x2="715.0" y2="317.6" stroke="#2a2a2a" stroke-width="1.1" stroke-dasharray="3 1.2 1 1.2"/>
<line x1="729.6" y1="317.6" x2="746.0" y2="317.6" stroke="#2a2a2a" stroke-width="1.1" stroke-dasharray="3 1.2 1 1.2"/>
<line x1="786.0" y1="346.0" x2="786.0" y2="356.0" stroke="#2a2a2a" stroke-width="1.1" stroke-dasharray="3 1.2 1 1.2"/>
<line x1="807.5" y1="309.0" x2="830.0" y2="309.0" stroke="#2a2a2a" stroke-width="1.1" stroke-dasharray="3 1.2 1 1.2"/>
<line x1="805.0" y1="330.0" x2="820.0" y2="330.0" stroke="#2a2a2a" stroke-width="1.1" stroke-dasharray="3 1.2 1 1.2"/>
<text x="720" y="300" font-size="4" fill="#333" text-anchor="middle">wc</text>
<text x="720" y="304.8" font-size="4" fill="#333" text-anchor="middle">2.06 mq</text>
<text x="751" y="300" font-size="4" fill="#333" text-anchor="middle">wc</text>
<text x="751" y="304.8" font-size="4" fill="#333" text-anchor="middle">2.15 mq</text>
<text x="783" y="300" font-size="4" fill="#333" text-anchor="middle">wc</text>
<text x="783" y="304.8" font-size="4" fill="#333" text-anchor="middle">1.73 mq</text>
<text x="779" y="325" font-size="4" fill="#333" text-anchor="middle">wc</text>
<text x="779" y="329.8" font-size="4" fill="#333" text-anchor="middle">1.65 mq</text>
<path d="M723,318 A12,12 0 0 0 711,307" fill="none" stroke="#aaa" stroke-width="0.6"/>
<path d="M754,318 A12,12 0 0 0 742,307" fill="none" stroke="#aaa" stroke-width="0.6"/>
<rect x="418.4" y="166.1" width="52.9" height="22.0" fill="#fff" stroke="#1e1e1e" stroke-width="1.4"/>
<line x1="423.7" y1="166.1" x2="423.7" y2="188.1" stroke="#333" stroke-width="1"/>
<line x1="429.0" y1="166.1" x2="429.0" y2="188.1" stroke="#333" stroke-width="1"/>
<line x1="434.3" y1="166.1" x2="434.3" y2="188.1" stroke="#333" stroke-width="1"/>
<line x1="439.6" y1="166.1" x2="439.6" y2="188.1" stroke="#333" stroke-width="1"/>
<line x1="444.9" y1="166.1" x2="444.9" y2="188.1" stroke="#333" stroke-width="1"/>
<line x1="450.1" y1="166.1" x2="450.1" y2="188.1" stroke="#333" stroke-width="1"/>
<line x1="455.4" y1="166.1" x2="455.4" y2="188.1" stroke="#333" stroke-width="1"/>
<line x1="460.7" y1="166.1" x2="460.7" y2="188.1" stroke="#333" stroke-width="1"/>
<line x1="466.0" y1="166.1" x2="466.0" y2="188.1" stroke="#333" stroke-width="1"/>
<line x1="418.4" y1="177.8" x2="471.3" y2="177.8" stroke="#555" stroke-width="0.8"/>
<rect x="473.0" y="151.8" width="23.0" height="13.5" fill="#fff" stroke="#1e1e1e" stroke-width="1.3"/>
<line x1="473.0" y1="155.2" x2="496.0" y2="155.2" stroke="#333" stroke-width="1"/>
<line x1="473.0" y1="158.6" x2="496.0" y2="158.6" stroke="#333" stroke-width="1"/>
<line x1="473.0" y1="161.9" x2="496.0" y2="161.9" stroke="#333" stroke-width="1"/>
<line x1="484.5" y1="158.0" x2="484.5" y2="172.0" stroke="#444" stroke-width="1"/>
<rect x="471.3" y="165.3" width="24.7" height="22.8" fill="#fff" stroke="#555" stroke-width="0.9"/>
<line x1="475.0" y1="170.0" x2="490.0" y2="186.0" stroke="#aaa" stroke-width="0.7"/>
<line x1="415.3" y1="185.0" x2="415.3" y2="204.7" stroke="#222" stroke-width="1.3"/>
<polyline points="495.6,188.1 495.6,167.8 645.7,167.8 645.7,188.5" fill="none" stroke="#1e1e1e" stroke-width="1.4"/>
<line x1="639.5" y1="170.0" x2="639.5" y2="186.0" stroke="#666" stroke-width="0.8" stroke-dasharray="2 1"/>
<text x="529" y="172.3" font-size="3.9" fill="#333">POGGIOLO</text>
<text x="529" y="177.60000000000002" font-size="3.9" fill="#333">16.71 mq</text>
<line x1="648.9" y1="140.4" x2="648.9" y2="164.0" stroke="#222" stroke-width="1.3"/>
<line x1="657.8" y1="140.4" x2="657.8" y2="164.0" stroke="#222" stroke-width="1.3"/>
<line x1="667.2" y1="140.4" x2="667.2" y2="164.0" stroke="#222" stroke-width="1.3"/>
<line x1="675.0" y1="140.4" x2="675.0" y2="164.0" stroke="#222" stroke-width="1.3"/>
<line x1="648.9" y1="153.0" x2="686.0" y2="153.0" stroke="#333" stroke-width="1.2"/>
<line x1="648.9" y1="164.0" x2="682.0" y2="164.0" stroke="#222" stroke-width="1.3"/>
<path d="M648.9,140.4 L688,140.4 Q694,141 694.5,148" fill="none" stroke="#aaa" stroke-width="0.9"/>
<line x1="684.0" y1="141.0" x2="684.0" y2="164.0" stroke="#bbb" stroke-width="0.6"/>
<line x1="672.9" y1="164.0" x2="672.9" y2="188.5" stroke="#222" stroke-width="1.3"/>
<line x1="698.0" y1="148.4" x2="814.4" y2="247.2" stroke="#8a8a8a" stroke-width="1.6"/>
<line x1="686.3" y1="152.9" x2="807.3" y2="255.6" stroke="#9a9a9a" stroke-width="0.9"/>
<line x1="678.5" y1="162.1" x2="794.9" y2="260.9" stroke="#8a8a8a" stroke-width="1.3"/>
<line x1="698.0" y1="148.4" x2="683.1" y2="165.9" stroke="#a5a5a5" stroke-width="0.8"/>
<line x1="708.1" y1="157.0" x2="693.2" y2="174.5" stroke="#a5a5a5" stroke-width="0.8"/>
<line x1="718.2" y1="165.6" x2="703.4" y2="183.1" stroke="#a5a5a5" stroke-width="0.8"/>
<line x1="728.4" y1="174.2" x2="713.5" y2="191.7" stroke="#a5a5a5" stroke-width="0.8"/>
<line x1="738.5" y1="182.8" x2="723.6" y2="200.3" stroke="#a5a5a5" stroke-width="0.8"/>
<line x1="748.6" y1="191.4" x2="733.7" y2="208.9" stroke="#a5a5a5" stroke-width="0.8"/>
<line x1="758.7" y1="199.9" x2="743.8" y2="217.5" stroke="#a5a5a5" stroke-width="0.8"/>
<line x1="768.9" y1="208.5" x2="754.0" y2="226.1" stroke="#a5a5a5" stroke-width="0.8"/>
<line x1="779.0" y1="217.1" x2="764.1" y2="234.7" stroke="#a5a5a5" stroke-width="0.8"/>
<line x1="789.1" y1="225.7" x2="774.2" y2="243.3" stroke="#a5a5a5" stroke-width="0.8"/>
<line x1="799.2" y1="234.3" x2="784.3" y2="251.8" stroke="#a5a5a5" stroke-width="0.8"/>
<line x1="809.3" y1="242.9" x2="794.5" y2="260.4" stroke="#a5a5a5" stroke-width="0.8"/>
<circle cx="725.0" cy="204.7" r="1.8" fill="#fff" stroke="#333" stroke-width="1"/>
<circle cx="739.1" cy="216.7" r="1.8" fill="#fff" stroke="#333" stroke-width="1"/>
<circle cx="753.2" cy="228.7" r="1.8" fill="#fff" stroke="#333" stroke-width="1"/>
<circle cx="767.3" cy="240.6" r="1.8" fill="#fff" stroke="#333" stroke-width="1"/>
<rect x="719.8" y="186.8" width="5" height="5" fill="none" stroke="#999" stroke-width="0.7" transform="rotate(40 722.3 189.3)"/>
<rect x="733.9" y="198.8" width="5" height="5" fill="none" stroke="#999" stroke-width="0.7" transform="rotate(40 736.4 201.3)"/>
<rect x="748.0" y="210.8" width="5" height="5" fill="none" stroke="#999" stroke-width="0.7" transform="rotate(40 750.5 213.3)"/>
<rect x="762.1" y="222.8" width="5" height="5" fill="none" stroke="#999" stroke-width="0.7" transform="rotate(40 764.6 225.3)"/>
<rect x="776.2" y="234.7" width="5" height="5" fill="none" stroke="#999" stroke-width="0.7" transform="rotate(40 778.7 237.2)"/>
<rect x="778.5" y="248.0" width="5.8" height="10.0" fill="#fff" stroke="#222" stroke-width="1.2"/>
<line x1="741.7" y1="153.3" x2="814.4" y2="213.3" stroke="#555" stroke-width="0.8"/>
<line x1="738.0" y1="157.0" x2="745.0" y2="150.0" stroke="#555" stroke-width="0.8"/>
<line x1="811.0" y1="217.0" x2="818.0" y2="210.0" stroke="#555" stroke-width="0.8"/>
<text x="778" y="184" font-size="3.3" fill="#888" text-anchor="middle" transform="rotate(39.5 778 184)">7.47</text>
<text x="723" y="237" font-size="3.8" fill="#333">VERANDA</text>
<text x="723" y="242.3" font-size="3.8" fill="#333">11.48 mq</text>
<line x1="418.0" y1="95.0" x2="710.0" y2="95.0" stroke="#222" stroke-width="1.05"/>
<line x1="418.0" y1="107.2" x2="672.4" y2="107.2" stroke="#222" stroke-width="1.05"/>
<line x1="418.0" y1="93.0" x2="418.0" y2="115.5" stroke="#222" stroke-width="1.5"/>
<line x1="522.6" y1="104.7" x2="522.6" y2="115.5" stroke="#222" stroke-width="1.5"/>
<line x1="568.5" y1="104.7" x2="568.5" y2="115.5" stroke="#222" stroke-width="1.5"/>
<line x1="621.0" y1="104.7" x2="621.0" y2="115.5" stroke="#222" stroke-width="1.5"/>
<line x1="672.4" y1="92.0" x2="672.4" y2="115.5" stroke="#222" stroke-width="1.5"/>
<line x1="710.0" y1="92.0" x2="710.0" y2="101.0" stroke="#222" stroke-width="1.5"/>
<text x="545" y="96.5" font-size="3.3" fill="#888" text-anchor="middle">25.23</text>
<text x="470" y="108.7" font-size="3.3" fill="#888" text-anchor="middle">10.07</text>
<text x="545" y="108.7" font-size="3.3" fill="#888" text-anchor="middle">4.28</text>
<text x="595" y="108.7" font-size="3.3" fill="#888" text-anchor="middle">4.85</text>
<text x="647" y="108.7" font-size="3.3" fill="#888" text-anchor="middle">4.90</text>
<text x="691" y="96.5" font-size="3.3" fill="#888" text-anchor="middle">3.60</text>
<line x1="884.5" y1="248.0" x2="884.5" y2="561.0" stroke="#333" stroke-width="1.1"/>
<line x1="879.0" y1="263.0" x2="890.0" y2="263.0" stroke="#222" stroke-width="1.5"/>
<line x1="879.0" y1="287.0" x2="890.0" y2="287.0" stroke="#222" stroke-width="1.5"/>
<line x1="879.0" y1="330.0" x2="890.0" y2="330.0" stroke="#222" stroke-width="1.5"/>
<line x1="879.0" y1="373.0" x2="890.0" y2="373.0" stroke="#222" stroke-width="1.5"/>
<line x1="879.0" y1="424.0" x2="890.0" y2="424.0" stroke="#222" stroke-width="1.5"/>
<line x1="879.0" y1="475.0" x2="890.0" y2="475.0" stroke="#222" stroke-width="1.5"/>
<line x1="879.0" y1="518.0" x2="890.0" y2="518.0" stroke="#222" stroke-width="1.5"/>
<line x1="879.0" y1="561.0" x2="890.0" y2="561.0" stroke="#222" stroke-width="1.5"/>
<text x="887" y="246" font-size="3" fill="#888" text-anchor="middle" transform="rotate(-90 887 246)">2.15</text>
<text x="887" y="275" font-size="3" fill="#888" text-anchor="middle" transform="rotate(-90 887 275)">2.15</text>
<text x="887" y="308" font-size="3" fill="#888" text-anchor="middle" transform="rotate(-90 887 308)">2.15</text>
<text x="887" y="351" font-size="3" fill="#888" text-anchor="middle" transform="rotate(-90 887 351)">2.15</text>
<text x="887" y="398" font-size="3" fill="#888" text-anchor="middle" transform="rotate(-90 887 398)">2.15</text>
<text x="887" y="449" font-size="3" fill="#888" text-anchor="middle" transform="rotate(-90 887 449)">2.15</text>
<text x="887" y="496" font-size="3" fill="#888" text-anchor="middle" transform="rotate(-90 887 496)">2.15</text>
<text x="887" y="540" font-size="3" fill="#888" text-anchor="middle" transform="rotate(-90 887 540)">2.15</text>
<line x1="585.8" y1="624.8" x2="803.6" y2="624.8" stroke="#222" stroke-width="1.05"/>
<line x1="803.6" y1="616.0" x2="803.6" y2="637.0" stroke="#222" stroke-width="1.5"/>
<line x1="585.8" y1="619.0" x2="585.8" y2="627.0" stroke="#222" stroke-width="1.5"/>
<line x1="632.8" y1="619.0" x2="632.8" y2="627.0" stroke="#222" stroke-width="1.5"/>
<line x1="695.5" y1="619.0" x2="695.5" y2="627.0" stroke="#222" stroke-width="1.5"/>
<line x1="525.3" y1="635.5" x2="803.6" y2="635.5" stroke="#222" stroke-width="1.05"/>
<line x1="525.3" y1="630.0" x2="525.3" y2="638.0" stroke="#222" stroke-width="1.5"/>
<line x1="585.8" y1="630.0" x2="585.8" y2="638.0" stroke="#222" stroke-width="1.5"/>
<text x="609" y="626.2" font-size="3.3" fill="#888" text-anchor="middle">4.52</text>
<text x="664" y="626.2" font-size="3.3" fill="#888" text-anchor="middle">5.26</text>
<text x="748" y="626.2" font-size="3.3" fill="#888" text-anchor="middle">5.30</text>
<text x="555" y="637" font-size="3.3" fill="#888" text-anchor="middle">5.46</text>
<text x="690" y="637" font-size="3.3" fill="#888" text-anchor="middle">12.94</text>
<line x1="417.2" y1="422.8" x2="525.4" y2="422.8" stroke="#1e1e1e" stroke-width="1.5"/>
<line x1="417.2" y1="422.8" x2="417.2" y2="439.3" stroke="#1e1e1e" stroke-width="1.3"/>
<line x1="439.5" y1="422.8" x2="439.5" y2="430.0" stroke="#222" stroke-width="1.3"/>
<polyline points="417.2,439.3 429.0,448.7 476.8,450.3 492.0,450.0 505.0,448.0 505.0,465.0 485.0,466.0" fill="none" stroke="#aaa" stroke-width="0.8"/>
<polyline points="425.0,425.0 439.5,435.0 429.0,448.7" fill="none" stroke="#bbb" stroke-width="0.7"/>
<line x1="443.0" y1="428.0" x2="443.0" y2="450.0" stroke="#bbb" stroke-width="0.6"/>
<line x1="448.5" y1="428.0" x2="448.5" y2="450.0" stroke="#bbb" stroke-width="0.6"/>
<line x1="454.0" y1="428.0" x2="454.0" y2="450.0" stroke="#bbb" stroke-width="0.6"/>
<line x1="459.5" y1="428.0" x2="459.5" y2="450.0" stroke="#bbb" stroke-width="0.6"/>
<line x1="465.0" y1="428.0" x2="465.0" y2="450.0" stroke="#bbb" stroke-width="0.6"/>
<line x1="470.5" y1="428.0" x2="470.5" y2="450.0" stroke="#bbb" stroke-width="0.6"/>
<line x1="476.0" y1="428.0" x2="476.0" y2="450.0" stroke="#bbb" stroke-width="0.6"/>
<line x1="481.5" y1="428.0" x2="481.5" y2="450.0" stroke="#bbb" stroke-width="0.6"/>
<line x1="487.0" y1="428.0" x2="487.0" y2="450.0" stroke="#bbb" stroke-width="0.6"/>
<line x1="482.0" y1="452.0" x2="505.0" y2="452.0" stroke="#bbb" stroke-width="0.6"/>
<line x1="482.0" y1="456.0" x2="505.0" y2="456.0" stroke="#bbb" stroke-width="0.6"/>
<line x1="482.0" y1="460.0" x2="505.0" y2="460.0" stroke="#bbb" stroke-width="0.6"/>
<line x1="482.0" y1="464.0" x2="505.0" y2="464.0" stroke="#bbb" stroke-width="0.6"/>
<polyline points="340.0,455.4 415.0,423.0" fill="none" stroke="#aaa" stroke-width="1"/>
<line x1="476.8" y1="374.0" x2="476.8" y2="562.0" stroke="#333" stroke-width="1.2"/>
<line x1="491.7" y1="374.0" x2="491.7" y2="497.0" stroke="#333" stroke-width="1.2"/>
<line x1="491.7" y1="503.0" x2="491.7" y2="510.0" stroke="#333" stroke-width="1.2"/>
<line x1="491.7" y1="518.0" x2="491.7" y2="562.0" stroke="#333" stroke-width="1.2"/>
<circle cx="491.7" cy="429" r="1.2" fill="#111"/>
<line x1="491.7" y1="429.0" x2="500.0" y2="429.0" stroke="#222" stroke-width="1.2" stroke-dasharray="3 1"/>
<line x1="511.0" y1="429.0" x2="540.0" y2="429.0" stroke="#2a2a2a" stroke-width="1.1" stroke-dasharray="3 1.2 1 1.2"/>
<circle cx="491.7" cy="477.8" r="1.2" fill="#111"/>
<line x1="491.7" y1="477.8" x2="500.0" y2="477.8" stroke="#222" stroke-width="1.2" stroke-dasharray="3 1"/>
<line x1="511.0" y1="477.8" x2="540.0" y2="477.8" stroke="#2a2a2a" stroke-width="1.1" stroke-dasharray="3 1.2 1 1.2"/>
<circle cx="491.7" cy="527.7" r="1.2" fill="#111"/>
<line x1="491.7" y1="527.7" x2="500.0" y2="527.7" stroke="#222" stroke-width="1.2" stroke-dasharray="3 1"/>
<line x1="511.0" y1="527.7" x2="540.0" y2="527.7" stroke="#2a2a2a" stroke-width="1.1" stroke-dasharray="3 1.2 1 1.2"/>
<line x1="417.2" y1="499.6" x2="514.4" y2="499.6" stroke="#1e1e1e" stroke-width="1.3"/>
<line x1="417.2" y1="492.0" x2="417.2" y2="501.0" stroke="#1e1e1e" stroke-width="1.5"/>
<line x1="449.8" y1="492.0" x2="449.8" y2="501.0" stroke="#1e1e1e" stroke-width="1.5"/>
<line x1="514.4" y1="492.0" x2="514.4" y2="501.0" stroke="#1e1e1e" stroke-width="1.5"/>
<line x1="476.0" y1="561.7" x2="486.0" y2="561.7" stroke="#111" stroke-width="1.3"/>
<line x1="490.5" y1="561.7" x2="500.0" y2="561.7" stroke="#111" stroke-width="1.3"/>
<text x="433" y="501" font-size="3.3" fill="#888" text-anchor="middle">2.80</text>
<text x="484" y="501" font-size="3.3" fill="#888" text-anchor="middle">2.63</text>
<text x="478" y="440" font-size="3.3" fill="#888" text-anchor="middle" transform="rotate(-90 478 440)">3.25</text>
<text x="478" y="530" font-size="3.3" fill="#888" text-anchor="middle" transform="rotate(-90 478 530)">3.25</text>
<text x="0" y="0" font-size="14" font-weight="bold" fill="#2a2a2a" text-anchor="middle" transform="translate(694,120.7) rotate(-90)">B</text>
<line x1="694.7" y1="128.0" x2="694.7" y2="205.0" stroke="#333" stroke-width="1" stroke-dasharray="5 2 1 2"/>
<polyline points="671.0,131.2 695.0,131.2 695.0,136.0" fill="none" stroke="#666" stroke-width="1"/>
<polyline points="682.0,127.5 671.0,131.2" fill="none" stroke="#666" stroke-width="1"/>
<text x="0" y="0" font-size="14" font-weight="bold" fill="#2a2a2a" text-anchor="middle" transform="translate(694.5,612.3) rotate(-90)">B</text>
<line x1="694.8" y1="588.0" x2="694.8" y2="601.8" stroke="#444" stroke-width="1" stroke-dasharray="3 2"/>
<line x1="672.0" y1="601.8" x2="694.8" y2="601.8" stroke="#666" stroke-width="0.8"/>
<line x1="672.0" y1="603.0" x2="683.0" y2="607.0" stroke="#666" stroke-width="0.8"/>
<line x1="694.8" y1="616.0" x2="694.8" y2="626.0" stroke="#222" stroke-width="1.4"/>
<text x="850.2" y="308.3" font-size="14.5" font-weight="bold" fill="#2a2a2a" text-anchor="middle">A</text>
<line x1="807.0" y1="309.0" x2="841.5" y2="309.0" stroke="#333" stroke-width="1.2" stroke-dasharray="1 3 9.4 3"/>
<polygon points="841.5,286 846.2,297.7 841.5,297.7" fill="#d0d0d0" stroke="#777" stroke-width="0.9"/>
<line x1="841.5" y1="286.0" x2="841.5" y2="309.0" stroke="#999" stroke-width="0.9"/>
<polygon points="797,273.5 803,266 803,269 809.5,269 809.5,278 803,278 803,281" fill="#7a7a7a"/>
<polygon points="694.8,576.3 686.4,582 689,582 689,587 700.5,587 700.5,582 703.2,582" fill="#7a7a7a"/>
<line x1="691.5" y1="582.0" x2="691.5" y2="587.0" stroke="#fff" stroke-width="0.5"/>
<line x1="694.8" y1="582.0" x2="694.8" y2="587.0" stroke="#fff" stroke-width="0.5"/>
<line x1="698.0" y1="582.0" x2="698.0" y2="587.0" stroke="#fff" stroke-width="0.5"/>
<polygon points="452,59 456,66 460,69 464,72 464.5,77 462,81 458,80 454,76 452,71 453,66" fill="#eee" stroke="#666" stroke-width="1"/>
<path d="M452,59 L457,73 L462,81 M455,69 L463,74 M453,74 L460,78" stroke="#777" stroke-width="0.8" fill="none"/>
<text x="475.9" y="71.8" font-size="14.9" fill="#2a2a2a" textLength="129.8" lengthAdjust="spacingAndGlyphs">PIANO TERRA (PT)</text>
<text x="475.9" y="83.3" font-size="9" fill="#222" stroke="#222" stroke-width="0.25" textLength="48.8" lengthAdjust="spacingAndGlyphs">scala 1:100</text>
<rect x="132" y="539.5" width="200" height="82.5" fill="#1e91fc"/><rect x="132" y="539.5" width="200" height="4" fill="#1a84ea"/>
<text x="209.8" y="569.8" font-size="21.5" fill="#fff" stroke="#fff" stroke-width="0.35" textLength="98.2" lengthAdjust="spacingAndGlyphs">AGENZIA</text>
<text x="146.2" y="589" font-size="21.5" fill="#fff" stroke="#fff" stroke-width="0.35" textLength="144.9" lengthAdjust="spacingAndGlyphs">IMMOBILIARE</text>
<text x="209.8" y="608.3" font-size="21.5" fill="#fff" stroke="#fff" stroke-width="0.35" textLength="107.8" lengthAdjust="spacingAndGlyphs">DOLOMITI</text>
</svg>
</body></html>
